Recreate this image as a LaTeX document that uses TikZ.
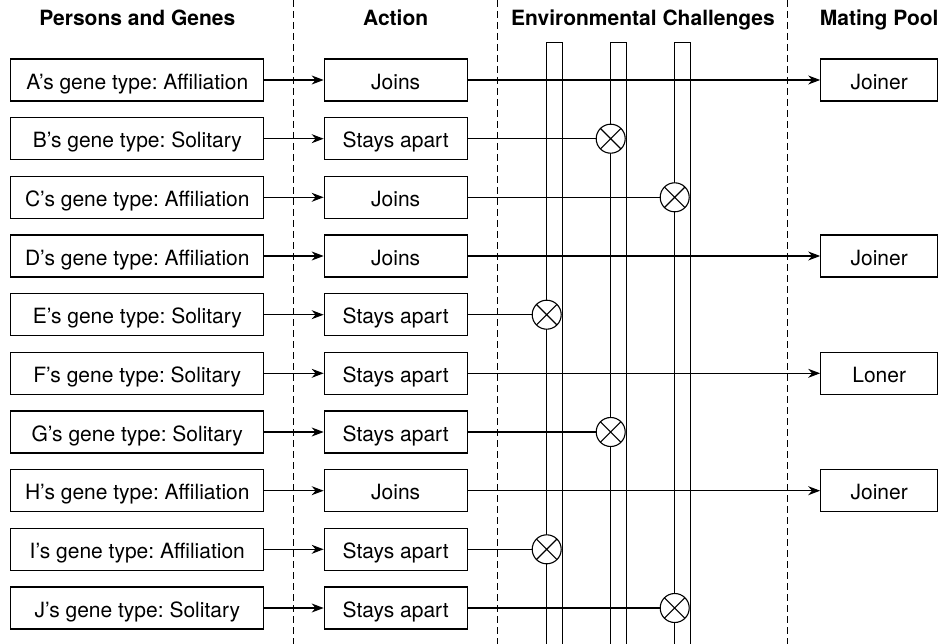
\documentclass[tikz,border=0pt]{standalone}
\usepackage{fontspec}
\setmainfont{TeX Gyre Heros}
\usetikzlibrary{arrows.meta}
\frenchspacing
\begin{document}
\begin{tikzpicture}[x=1pt,y=-1pt,
  box/.style={draw, line width=1.1pt, minimum height=42pt, inner sep=0pt, text height=18.5pt, text depth=0pt, font=\fontsize{21}{24}\selectfont},
  lbox/.style={box, minimum width=253pt},
  mbox/.style={box, minimum width=143pt},
  rbox/.style={box, minimum width=117pt},
  hdr/.style={font=\fontsize{21}{24}\selectfont\bfseries, anchor=base, inner sep=0pt},
  conn/.style={line width=1.1pt},
  arr/.style={conn, -{Stealth[length=12pt,width=9pt]}},
  sep/.style={line width=1.2pt, dash pattern=on 7pt off 4pt},
  bar/.style={line width=1.1pt},
  kill/.style={circle, draw, line width=1.1pt, fill=white, minimum size=29pt, inner sep=0pt,
    path picture={\draw[line width=1.1pt] (path picture bounding box.north west) -- (path picture bounding box.south east)
      (path picture bounding box.north east) -- (path picture bounding box.south west);}}
]
\useasboundingbox (0,0) rectangle (949,644);

% headers
\node[hdr] (h1) at (137.3,26) {Persons and Genes};
\node[hdr] (h2) at (395.7,26) {Action};
\node[hdr] (h3) at (643,26) {Environmental Challenges};
\node[hdr] (h4) at (879.2,26) {Mating Pool};

% dashed separators
\draw[sep] (293.3,0) -- (293.3,644);
\draw[sep] (497.7,0) -- (497.7,644);
\draw[sep] (787.3,0) -- (787.3,644);

% challenge bars
\draw[bar] (546.7,644) -- (546.7,42.7) -- (562.7,42.7) -- (562.7,644);
\draw[bar] (610.7,644) -- (610.7,42.7) -- (626.7,42.7) -- (626.7,644);
\draw[bar] (674.7,644) -- (674.7,42.7) -- (690.7,42.7) -- (690.7,644);

% persons
\node[lbox] (pA) at (137.3,80)    {A’s gene type: Affiliation};
\node[lbox] (pB) at (137.3,138.7) {B’s gene type: Solitary};
\node[lbox] (pC) at (137.3,197.3) {C’s gene type: Affiliation};
\node[lbox] (pD) at (137.3,256)   {D’s gene type: Affiliation};
\node[lbox] (pE) at (137.3,314.7) {E’s gene type: Solitary};
\node[lbox] (pF) at (137.3,373.3) {F’s gene type: Solitary};
\node[lbox] (pG) at (137.3,432)   {G’s gene type: Solitary};
\node[lbox] (pH) at (137.3,490.7) {H’s gene type: Affiliation};
\node[lbox] (pI) at (137.3,549.3) {I’s gene type: Affiliation};
\node[lbox] (pJ) at (137.3,608)   {J’s gene type: Solitary};

% actions
\node[mbox] (aA) at (395.7,80)    {Joins};
\node[mbox] (aB) at (395.7,138.7) {Stays apart};
\node[mbox] (aC) at (395.7,197.3) {Joins};
\node[mbox] (aD) at (395.7,256)   {Joins};
\node[mbox] (aE) at (395.7,314.7) {Stays apart};
\node[mbox] (aF) at (395.7,373.3) {Stays apart};
\node[mbox] (aG) at (395.7,432)   {Stays apart};
\node[mbox] (aH) at (395.7,490.7) {Joins};
\node[mbox] (aI) at (395.7,549.3) {Stays apart};
\node[mbox] (aJ) at (395.7,608)   {Stays apart};

% mating pool
\node[rbox] (mA) at (879.2,80)    {Joiner};
\node[rbox] (mD) at (879.2,256)   {Joiner};
\node[rbox] (mF) at (879.2,373.3) {Loner};
\node[rbox] (mH) at (879.2,490.7) {Joiner};

% person -> action
\foreach \r in {A,B,C,D,E,F,G,H,I,J}
  \draw[arr] (p\r) -- (a\r);

% action -> mating pool
\draw[arr] (aA) -- (mA);
\draw[arr] (aD) -- (mD);
\draw[arr] (aF) -- (mF);
\draw[arr] (aH) -- (mH);

% eliminations
\node[kill] (kB) at (610.7,138.7) {};
\node[kill] (kC) at (674.7,197.3) {};
\node[kill] (kE) at (546.7,314.7) {};
\node[kill] (kG) at (610.7,432)   {};
\node[kill] (kI) at (546.7,549.3) {};
\node[kill] (kJ) at (674.7,608)   {};
\draw[conn] (aB) -- (kB);
\draw[conn] (aC) -- (kC);
\draw[conn] (aE) -- (kE);
\draw[conn] (aG) -- (kG);
\draw[conn] (aI) -- (kI);
\draw[conn] (aJ) -- (kJ);
\end{tikzpicture}
\end{document}
